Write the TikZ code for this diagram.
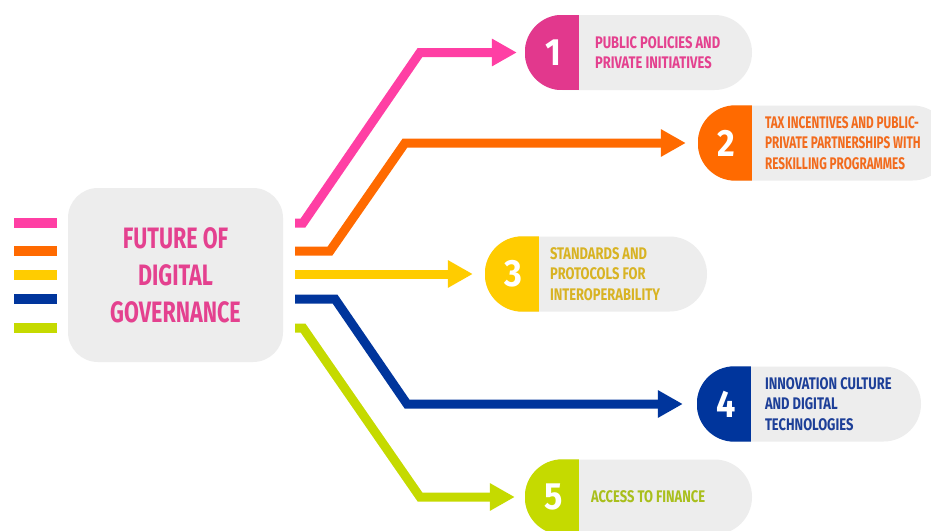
\documentclass[tikz,border=0pt]{standalone}
\usepackage{fontspec}
\setmainfont{Fira Sans}
\newfontfamily\condf{Fira Sans}[FakeStretch=0.73]
\newfontfamily\pillf{Fira Sans}[FakeStretch=0.77]
\newfontfamily\pilltwof{Fira Sans}[FakeStretch=0.70]
\newfontfamily\numf{Fira Sans}[FakeStretch=0.9]
\usetikzlibrary{arrows.meta}
\definecolor{boxgray}{HTML}{EDEDED}
\definecolor{pinkL}{HTML}{FF3FA4}
\definecolor{pinkP}{HTML}{E2388D}
\definecolor{pinkT}{HTML}{E4418F}
\definecolor{orangeL}{HTML}{FF6A00}
\definecolor{orangeT}{HTML}{F26B1D}
\definecolor{yellowL}{HTML}{FFCC00}
\definecolor{yellowT}{HTML}{D8B323}
\definecolor{blueL}{HTML}{00359C}
\definecolor{blueT}{HTML}{1D3F98}
\definecolor{greenL}{HTML}{C5DA00}
\definecolor{greenT}{HTML}{A9BF1C}
\tikzset{
  core/.style={fill=boxgray, rounded corners=30pt, minimum width=215pt, minimum height=174pt, inner sep=0pt,
    align=center, text=pinkT, font=\condf\bfseries\fontsize{29.5}{37}\selectfont},
  pillbg/.style={fill=boxgray, rounded corners=37.5pt, minimum height=75pt, inner sep=0pt},
  numtxt/.style={text=white, inner sep=0pt, font=\numf\bfseries\fontsize{38}{40}\selectfont},
  pilltxt/.style={inner sep=0pt, align=left, anchor=west, font=\pillf\bfseries\fontsize{16.8}{20.5}\selectfont},
  bar/.style={line width=9.5pt},
  conn/.style={line width=9pt, -{Triangle[length=25pt,width=26pt]}},
}
\newcommand\mkpill[9]{% name, center x, center y, width, colour, number, text, text colour, text offset
  \node[pillbg, minimum width=#4pt] (#1) at (#2,#3) {};
  \begin{scope}
    \clip[rounded corners=37.5pt] (#1.north west) rectangle (#1.south east);
    \fill[#5] (#1.north west) rectangle ([xshift=54pt]#1.south west);
  \end{scope}
  \node[numtxt] (#1n) at ([xshift=29pt]#1.west) {#6};
  \node[pilltxt, text=#8] (#1t) at ([xshift=#9pt]#1.west) {#7};
}
\begin{document}
\begin{tikzpicture}[x=1pt,y=-1pt]
\useasboundingbox (0,0) rectangle (931,530);
\clip (0,0) rectangle (931,530);
\fill[white] (0,0) rectangle (931,530);
% left bars
\draw[bar, pinkL] (14,223) -- (57,223);
\draw[bar, orangeL] (14,251) -- (57,251);
\draw[bar, yellowL] (14,275) -- (57,275);
\draw[bar, blueL] (14,299) -- (57,299);
\draw[bar, greenL] (14,328) -- (57,328);
% central box
\node[core] (core) at (175.5,275) {FUTURE OF\\DIGITAL\\GOVERNANCE};
% pills
\mkpill{p1}{638.5}{52.5}{227}{pinkP}{1}{PUBLIC POLICIES AND\\PRIVATE INITIATIVES}{pinkT}{70}
\mkpill{p2}{824}{143}{252}{orangeL}{2}{\pilltwof TAX INCENTIVES AND PUBLIC-\\\pilltwof PRIVATE PARTNERSHIPS WITH\\\pilltwof RESKILLING PROGRAMMES}{orangeT}{67}
\mkpill{p3}{596}{274}{222}{yellowL}{3}{STANDARDS AND\\PROTOCOLS FOR\\INTEROPERABILITY}{yellowT}{65}
\mkpill{p4}{809}{404}{224}{blueL}{4}{INNOVATION CULTURE\\AND DIGITAL\\TECHNOLOGIES}{blueT}{68}
\mkpill{p5}{638.5}{497}{227}{greenL}{5}{ACCESS TO FINANCE}{greenT}{66}
% start points
\coordinate (s1) at (295,223);
\coordinate (s2) at (295,251);
\coordinate (s3) at (295,274);
\coordinate (s4) at (295,299);
\coordinate (s5) at (295,328);
% connectors
\draw[conn, pinkL] (s1) -- ++(8,0) -- (420,0 |- p1.west) -- ([xshift=-8pt]p1.west);
\draw[conn, orangeL] (s2) -- ++(35,0) -- (405,0 |- p2.west) -- ([xshift=-12pt]p2.west);
\draw[conn, yellowL] (s3) -- ([xshift=-12pt]p3.west);
\draw[conn, blueL] (s4) -- ++(40,0) -- (407,0 |- p4.west) -- ([xshift=-14pt]p4.west);
\draw[conn, greenL] (s5) -- ++(8,0) -- (420,0 |- p5.west) -- ([xshift=-10pt]p5.west);
\end{tikzpicture}
\end{document}
